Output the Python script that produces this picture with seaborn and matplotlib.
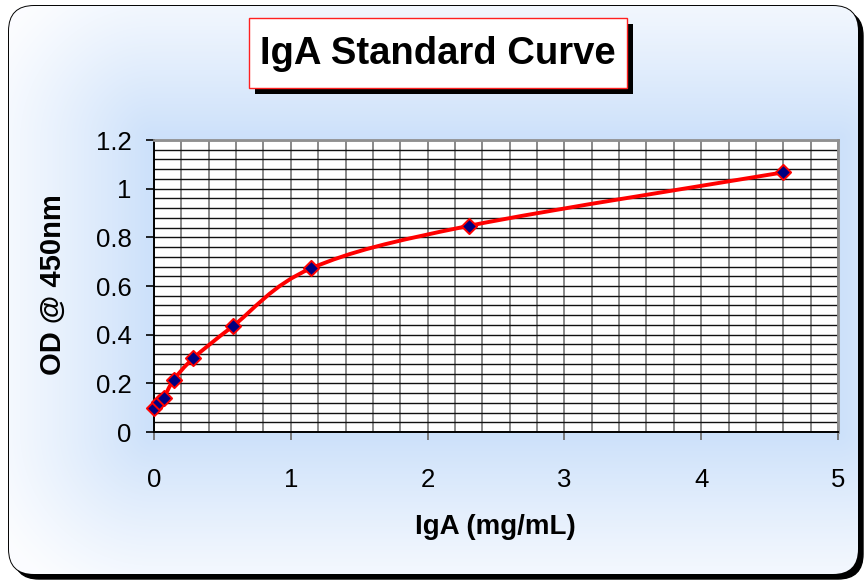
"""IgA ELISA standard curve: OD at 450 nm against IgA concentration."""

import matplotlib

matplotlib.use("Agg")
import matplotlib.pyplot as plt
import numpy as np
import pandas as pd
import seaborn as sns
from matplotlib.patches import FancyBboxPatch, PathPatch, Rectangle
from matplotlib.path import Path
from matplotlib.ticker import MultipleLocator

# standards (two-fold dilution series) and measured OD
conc_mg_ml = [0.0, 0.036, 0.072, 0.144, 0.2875, 0.575, 1.15, 2.3, 4.6]
od_450 = [0.099, 0.124, 0.141, 0.214, 0.303, 0.434, 0.673, 0.847, 1.067]

x_ticks = [0, 1, 2, 3, 4, 5]
y_ticks = [0, 0.2, 0.4, 0.6, 0.8, 1.0, 1.2]
y_tick_labels = ["0", "0.2", "0.4", "0.6", "0.8", "1", "1.2"]

title = "IgA Standard Curve"
x_label = "IgA (mg/mL)"
y_label = "OD @ 450nm"

W, H = 867, 584

sns.set_style("white")
plt.rcParams["font.family"] = ["Liberation Sans", "DejaVu Sans"]
plt.rcParams["text.color"] = "black"
plt.rcParams["axes.labelcolor"] = "black"
plt.rcParams["xtick.labelcolor"] = "black"
plt.rcParams["ytick.labelcolor"] = "black"

df = pd.DataFrame({"conc": conc_mg_ml, "od": od_450})

fig = plt.figure(figsize=(W / 100, H / 100), dpi=100)
fig.patch.set_facecolor("white")

# ---- background layer: rounded frame with shadow and blue glow ----
bg = fig.add_axes([0, 0, 1, 1])
bg.set_xlim(0, W)
bg.set_ylim(H, 0)
bg.axis("off")

shadow = FancyBboxPatch((14, 11), 849, 568, boxstyle="round,pad=0,rounding_size=25",
                        facecolor="black", edgecolor="black", zorder=1)
bg.add_patch(shadow)
frame = FancyBboxPatch((9, 6), 849, 568, boxstyle="round,pad=0,rounding_size=25",
                       facecolor="white", edgecolor="black", linewidth=1.4, zorder=2)
bg.add_patch(frame)

# glow around the plot area, fading to white towards the frame
px_l, px_r, px_t, px_b = 154, 838, 140, 432
gx, gy = np.meshgrid(np.arange(W) + 0.5, np.arange(H) + 0.5)
dx = np.maximum(np.maximum(px_l - gx, gx - px_r), 0)
dy = np.maximum(np.maximum(px_t - gy, gy - px_b), 0)
dist = np.hypot(dx, dy)
strength = np.clip(1 - dist / 180, 0, 1) ** 1.2
blue = np.array([0.80, 0.88, 0.98])
white = np.array([0.985, 0.99, 1.0])
img = white + (blue - white) * strength[..., None]
glow = bg.imshow(img, extent=(0, W, H, 0), zorder=3, interpolation="bilinear")
glow.set_clip_path(frame)
bg.set_xlim(0, W)
bg.set_ylim(H, 0)

# title box
bg.add_patch(Rectangle((255, 24), 378, 70, facecolor="black", edgecolor="none", zorder=4))
bg.add_patch(Rectangle((249, 18), 378, 70, facecolor="white", edgecolor="#ff2020",
                       linewidth=1.0, zorder=5))
bg.text(438, 54, title, ha="center", va="center", fontsize=27.5,
        fontweight="bold", color="black", zorder=6)

# ---- plot area ----
ax = fig.add_axes([px_l / W, 1 - px_b / H, (px_r - px_l) / W, (px_b - px_t) / H])
ax.set_facecolor("white")
ax.set_zorder(5)

ax.set_xlim(0, 5)
ax.set_ylim(0, 1.2)
ax.set_xticks(x_ticks)
ax.set_yticks(y_ticks)
ax.set_yticklabels(y_tick_labels)
ax.xaxis.set_minor_locator(MultipleLocator(0.2))
ax.yaxis.set_minor_locator(MultipleLocator(0.04))

ax.grid(True, axis="x", which="both", color="#808080", linewidth=1.3)
ax.grid(True, axis="y", which="both", color="#111111", linewidth=1.0)
ax.set_axisbelow(True)

ax.tick_params(axis="y", which="major", length=6, width=1.2, color="black",
               labelsize=18.5, pad=10, left=True, labelcolor="black")
ax.tick_params(axis="x", which="major", length=6, width=1.3, color="#707070",
               labelsize=18.5, pad=20, bottom=True, labelcolor="black")
ax.tick_params(which="minor", length=0)

for side in ("top", "right"):
    ax.spines[side].set_color("#909090")
    ax.spines[side].set_linewidth(2.0)
for side in ("left", "bottom"):
    ax.spines[side].set_color("black")
    ax.spines[side].set_linewidth(1.4)

# smoothed connecting line (Bezier through the points, as in the spreadsheet chart)
pts = df[["conc", "od"]].to_numpy()
verts = [tuple(pts[0])]
codes = [Path.MOVETO]
n = len(pts)
for i in range(n - 1):
    p0 = pts[max(i - 1, 0)]
    p1 = pts[i]
    p2 = pts[i + 1]
    p3 = pts[min(i + 2, n - 1)]
    c1 = p1 + (p2 - p0) / 6
    c2 = p2 - (p3 - p1) / 6
    verts += [tuple(c1), tuple(c2), tuple(p2)]
    codes += [Path.CURVE4] * 3
ax.add_patch(PathPatch(Path(verts, codes), facecolor="none", edgecolor="#ff0000",
                       linewidth=2.8, capstyle="round", joinstyle="round", zorder=3))

sns.scatterplot(data=df, x="conc", y="od", ax=ax, marker="D", s=60,
                color="#000080", edgecolor="#ff0000", linewidth=1.4, zorder=4,
                clip_on=False)

ax.set_xlabel(x_label, fontsize=20, fontweight="bold", color="black")
ax.set_ylabel(y_label, fontsize=21, fontweight="bold", color="black")
ax.xaxis.set_label_coords(0.4985, -0.28)
ax.yaxis.set_label_coords(-0.128, 0.503)

fig.savefig("out.png", dpi=100)
plt.close(fig)
